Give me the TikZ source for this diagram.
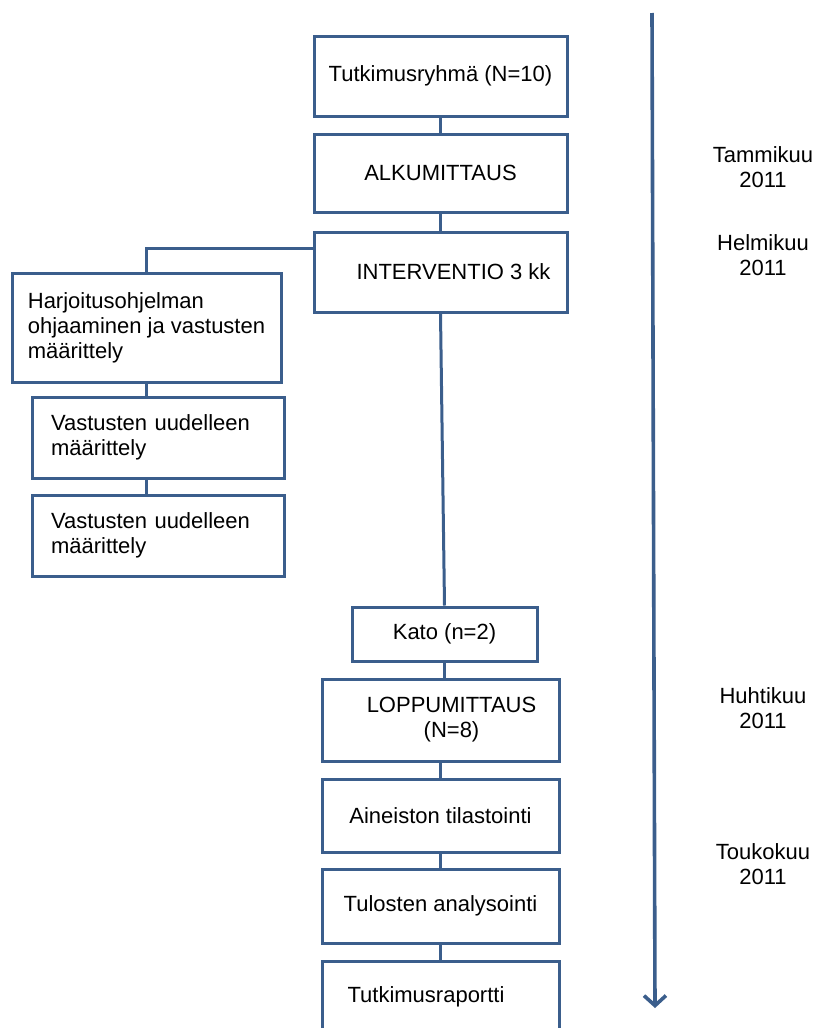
\documentclass[tikz,border=0pt]{standalone}
\usepackage{fontspec}
\setmainfont{Liberation Sans}
\usetikzlibrary{arrows.meta}
\definecolor{boxblue}{HTML}{3B5E8C}

\begin{document}
\begin{tikzpicture}[x=1pt, y=-1pt,
    box/.style={draw=boxblue, line width=3pt, fill=white,
                font=\fontsize{22}{25}\selectfont, inner sep=4pt},
    link/.style={draw=boxblue, line width=3pt},
    month/.style={font=\fontsize{22}{25}\selectfont, align=center}]

    \useasboundingbox (0,0) rectangle (819,1028);

    % Main column of the study
    \node[box, minimum width=253pt, minimum height=80pt] (Group_Box) at (440.5,76) {Tutkimusryhmä (N=10)};
    \node[box, minimum width=253pt, minimum height=78pt] (Start_Box) at (440.5,173) {ALKUMITTAUS};
    \node[box, minimum width=253pt, minimum height=80pt] (Interv_Box) at (440.5,272) {\hspace*{26pt}INTERVENTIO 3 kk};

    % Side branch of the intervention
    \node[box, align=left,
          minimum width=269pt, minimum height=109pt] (Program_Box) at (146.5,327.5)
          {Harjoitusohjelman\\ohjaaminen ja vastusten\\määrittely};
    \node[box, align=left, text width=214pt,
          minimum width=252pt, minimum height=81pt] (Redef_One) at (158,437.5)
          {Vastusten uudelleen\\määrittely};
    \node[box, align=left, text width=214pt,
          minimum width=252pt, minimum height=81pt] (Redef_Two) at (158,535.5)
          {Vastusten uudelleen\\määrittely};

    % Loss and the end of the study
    \node[box, minimum width=185pt, minimum height=54pt] (Loss_Box) at (444.5,634) {Kato (n=2)};
    \node[box, align=center,
          minimum width=237pt, minimum height=82pt] (End_Box) at (440.5,720)
          {\hspace*{22pt}LOPPUMITTAUS\\\hspace*{22pt}(N=8)};
    \node[box, minimum width=237pt, minimum height=73pt] (Stats_Box) at (440.5,815.5) {Aineiston tilastointi};
    \node[box, minimum width=237pt, minimum height=74pt] (Analysis_Box) at (440.5,906) {Tulosten analysointi};
    \node[box, minimum width=237pt, minimum height=72pt] (Report_Box) at (440.5,997) {Tutkimusraportti\hspace*{29pt}};

    % Connectors
    \draw[link] (Group_Box) -- (Start_Box);
    \draw[link] (Start_Box) -- (Interv_Box);
    \draw[link] ([yshift=-18pt]Interv_Box.north west) -| (Program_Box.north);
    \draw[link] (Program_Box.south) -- (Program_Box.south |- Redef_One.north);
    \draw[link] (Program_Box.south |- Redef_One.south) -- (Program_Box.south |- Redef_Two.north);
    \draw[link] (Interv_Box.south) -- (Loss_Box.north);
    \draw[link] (Loss_Box.south) -- (Loss_Box.south |- End_Box.north);
    \draw[link] (End_Box) -- (Stats_Box);
    \draw[link] (Stats_Box) -- (Analysis_Box);
    \draw[link] (Analysis_Box) -- (Report_Box);

    % Time line with the months
    \coordinate (Time_Top) at (652,13);
    \coordinate (Time_End) at (655,1008);
    \draw[link, line width=3.6pt, -{Straight Barb[length=10pt, width=22pt]}] (Time_Top) -- (Time_End);

    \node[month] (Month_Jan) at (763,167) {Tammikuu\\2011};
    \node[month] (Month_Feb) at (763,255.5) {Helmikuu\\2011};
    \node[month] (Month_Apr) at (763,708.5) {Huhtikuu\\2011};
    \node[month] (Month_May) at (763,864.5) {Toukokuu\\2011};

\end{tikzpicture}
\end{document}
